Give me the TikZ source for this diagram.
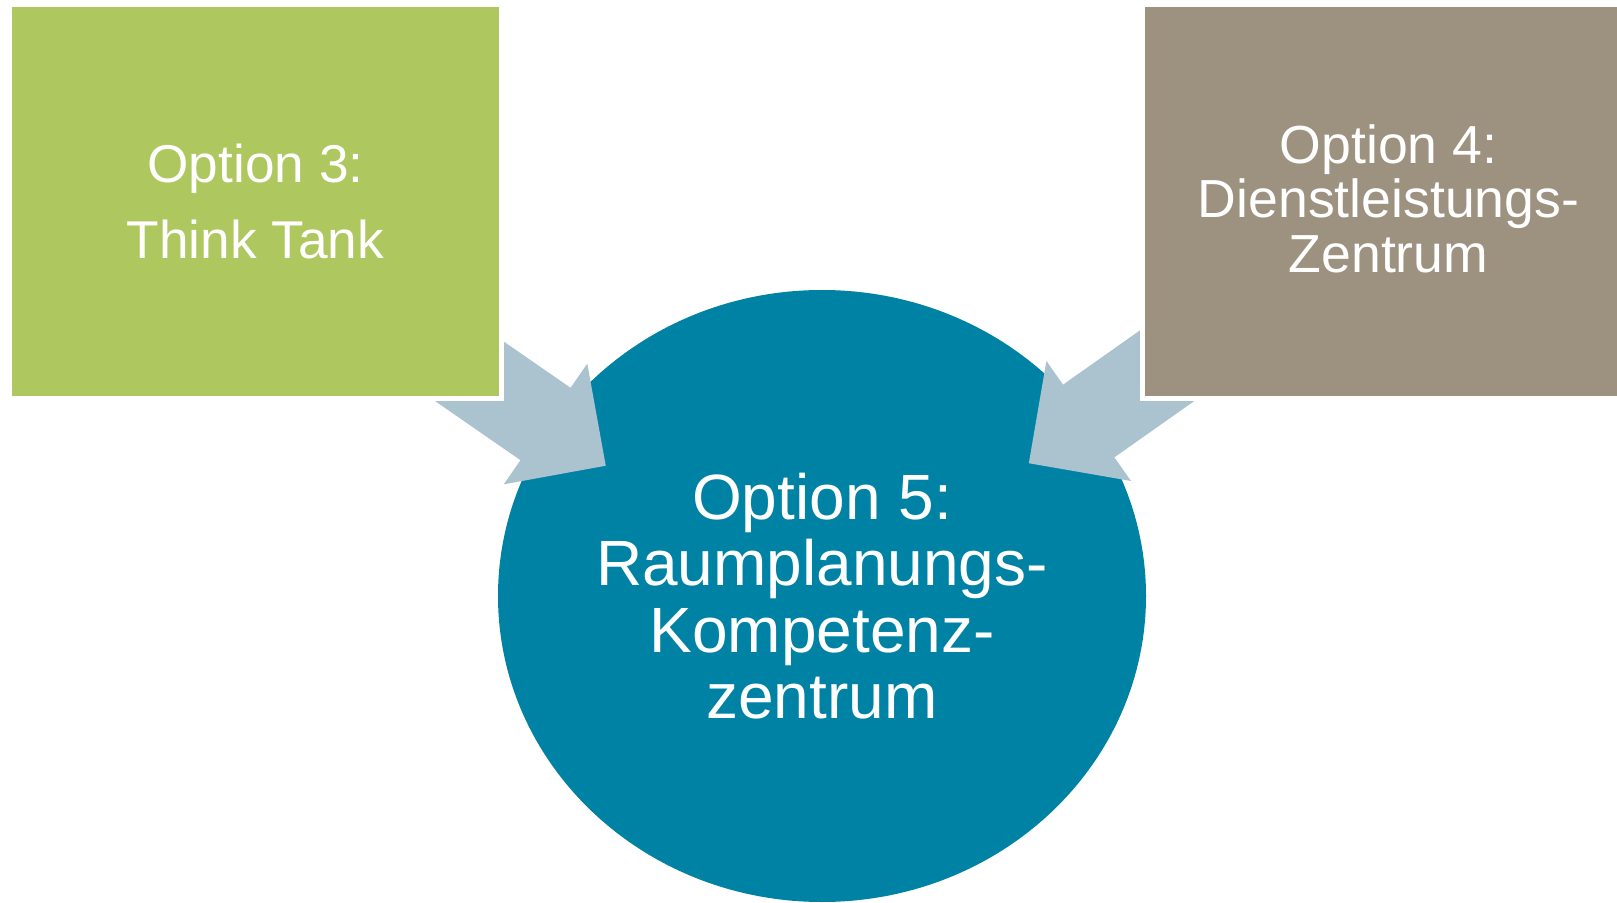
\documentclass[tikz,border=0pt]{standalone}
\usepackage{fontspec}
\setmainfont{Liberation Sans}
\usetikzlibrary{shapes.geometric}
\definecolor{boxgreen}{RGB}{174,199,94}
\definecolor{boxbrown}{RGB}{157,145,127}
\definecolor{hubteal}{RGB}{0,130,164}
\definecolor{arrowblue}{RGB}{171,194,207}
\begin{document}
\begin{tikzpicture}[x=0.5pt,y=-0.5pt,
  optbox/.style={rectangle, draw=white, line width=2.5pt, minimum width=246pt,
    minimum height=196.75pt, inner sep=0pt, outer sep=0pt, text=white, align=center},
  hub/.style={ellipse, fill=hubteal, minimum width=324pt, minimum height=306pt,
    inner sep=0pt, outer sep=0pt, text=white, align=center,
    font=\fontsize{32}{33.2}\selectfont},
  blockarrow/.style={fill=arrowblue, draw=none}]
\useasboundingbox (0,0) rectangle (1617,903);
\clip (0,0) rectangle (1617,903);
\fill[white] (0,0) rectangle (1617,903);

% central hub
\node[hub] (opt5) at (822,596) {Option 5:\\Raumplanungs-\\Kompetenz-\\zentrum};

% block arrows
\begin{scope}[shift={(545.5,424)}, rotate=-34.7]
  \coordinate (tipL) at (73.3,0);
  \fill[blockarrow] (-160,-44) -- (0,-44) -- (0,-73.4) -- (tipL) -- (0,73.4) -- (0,44) -- (-160,44) -- cycle;
\end{scope}
\begin{scope}[shift={(1088.7,421)}, rotate=-144.8]
  \coordinate (tipR) at (73.3,0);
  \fill[blockarrow] (-160,-44.5) -- (0,-44.5) -- (0,-73.4) -- (tipR) -- (0,73.4) -- (0,44.5) -- (-160,44.5) -- cycle;
\end{scope}

% option boxes
\node[optbox, fill=boxgreen, font=\fontsize{26.6}{38}\selectfont] (opt3) at (255.5,201.75) {Option 3:\\Think Tank};
\node[optbox, fill=boxbrown] (opt4) at (1388.5,201.75) {};
\node[text=white, align=center, font=\fontsize{26.8}{27.3}\selectfont, inner sep=0pt] (opt4text) at ([yshift=1.5pt]opt4.center) {Option 4:\\Dienstleistungs-\\Zentrum};
\end{tikzpicture}
\end{document}
